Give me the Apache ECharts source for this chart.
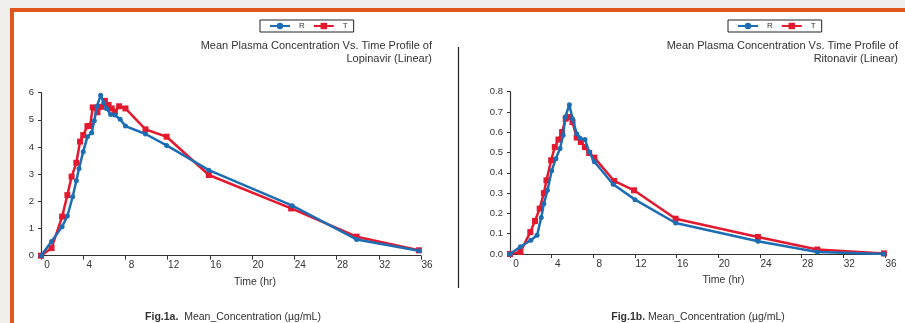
<!DOCTYPE html>
<html>
<head>
<meta charset="utf-8">
<script src="https://cdn.jsdelivr.net/npm/echarts@6/dist/echarts.min.js"></script>
<style>html,body{margin:0;padding:0;background:#f0efeb;}#c{width:905px;height:323px;}</style>
</head>
<body>
<div id="c"></div>
<script>
// ---- data ----
var xTicks = [0, 4, 8, 12, 16, 20, 24, 28, 32, 36];
var legendNames = ['R', 'T'];
var titleLop = 'Mean Plasma Concentration Vs. Time Profile of\nLopinavir (Linear)';
var titleRit = 'Mean Plasma Concentration Vs. Time Profile of\nRitonavir (Linear)';
var xName = 'Time (hr)';

var lopTimeR = [0, 1, 2, 2.5, 3, 3.35, 3.6, 4, 4.4, 4.8, 5.05, 5.3, 5.65, 5.95, 6.2, 6.6, 7, 7.5, 8, 9.9, 11.9, 15.9, 23.8, 29.9, 35.8];
var lopR     = [0, 0.52, 1.07, 1.46, 2.17, 2.76, 3.21, 3.83, 4.38, 4.53, 4.97, 5.5, 5.91, 5.63, 5.42, 5.2, 5.18, 5.02, 4.77, 4.48, 4.06, 3.15, 1.84, 0.6, 0.18];
var lopTimeT = [0, 1, 2, 2.5, 2.9, 3.35, 3.7, 4, 4.4, 4.65, 4.9, 5.35, 5.7, 6.05, 6.4, 6.7, 7, 7.4, 8, 9.9, 11.9, 15.9, 23.7, 29.9, 35.8];
var lopT     = [0, 0.28, 1.44, 2.23, 2.91, 3.42, 4.2, 4.44, 4.77, 4.78, 5.46, 5.28, 5.48, 5.7, 5.55, 5.42, 5.3, 5.5, 5.42, 4.65, 4.38, 2.97, 1.74, 0.7, 0.2];

var ritTimeR = [0, 1, 2, 2.6, 3, 3.25, 3.6, 4, 4.4, 4.8, 5.1, 5.3, 5.7, 6, 6.4, 6.7, 7.2, 7.6, 8.1, 9.9, 12, 15.9, 23.8, 29.5, 35.9];
var ritR     = [0, 0.036, 0.068, 0.092, 0.18, 0.248, 0.314, 0.41, 0.47, 0.52, 0.585, 0.675, 0.736, 0.667, 0.593, 0.572, 0.564, 0.503, 0.455, 0.344, 0.268, 0.153, 0.063, 0.01, 0.0];
var ritTimeT = [0, 1, 1.95, 2.4, 2.85, 3.25, 3.5, 3.95, 4.3, 4.65, 5, 5.35, 5.7, 6, 6.4, 6.8, 7.2, 7.6, 8.1, 10, 11.9, 15.9, 23.8, 29.5, 35.9];
var ritT     = [0, 0.01, 0.108, 0.163, 0.224, 0.30, 0.363, 0.462, 0.527, 0.564, 0.601, 0.667, 0.675, 0.65, 0.574, 0.552, 0.527, 0.498, 0.475, 0.36, 0.314, 0.174, 0.084, 0.022, 0.003];

// ---- chart ----
var FONT = '"Liberation Sans", Arial, sans-serif';
var BLUE = '#1c6db3', RED = '#e2192f', AX = '#333';
function pairs(xs, ys) { return xs.map(function (x, i) { return [x, ys[i]]; }); }

function xAxis(gi, namePad) {
  return {
    type: 'value', gridIndex: gi, min: xTicks[0], max: xTicks[xTicks.length - 1], interval: 4,
    name: xName, nameLocation: 'middle', nameGap: 21,
    nameTextStyle: { fontFamily: FONT, fontSize: 10.5, color: '#333', padding: [0, 0, 0, namePad] },
    axisLine: { show: true, onZero: false, lineStyle: { color: AX, width: 1.2 } },
    axisTick: { show: true, length: 4, lineStyle: { color: AX } },
    axisLabel: { fontFamily: FONT, fontSize: 10, color: '#333', margin: 5, padding: [0, 0, 0, 12] },
    splitLine: { show: false }
  };
}
function yAxis(gi, max, interval, dec) {
  return {
    type: 'value', gridIndex: gi, min: 0, max: max, interval: interval,
    axisLine: { show: true, lineStyle: { color: AX, width: 1.2 } },
    axisTick: { show: true, length: 3, lineStyle: { color: AX } },
    axisLabel: { fontFamily: FONT, fontSize: 9.5, color: '#333', margin: 7,
      formatter: function (v) { return dec ? v.toFixed(dec) : String(v); } },
    splitLine: { show: false }
  };
}
function ser(name, xi, data, color, symbol, size, z) {
  return {
    name: name, type: 'line', xAxisIndex: xi, yAxisIndex: xi, data: data,
    symbol: symbol, symbolSize: size, showSymbol: true, z: z,
    lineStyle: { color: color, width: 2.5 }, itemStyle: { color: color },
    emphasis: { disabled: true }, animation: false
  };
}
function legend(left) {
  return {
    data: legendNames, left: left, top: 20, orient: 'horizontal',
    padding: [2, 6, 2, 9], borderColor: '#222', borderWidth: 1,
    itemWidth: 20, itemHeight: 8, itemGap: 8,
    textStyle: { fontFamily: FONT, fontSize: 8, color: '#333', padding: [0, 0, 0, 4] }
  };
}
function titleText(text, x) {
  return {
    type: 'text', x: x, y: 39, z: 10,
    style: { text: text, align: 'right', verticalAlign: 'top', font: '11px ' + FONT,
      fill: '#333', lineHeight: 13.6 }
  };
}
function caption(x, tag, rest) {
  return {
    type: 'text', x: x, y: 317, z: 10,
    style: {
      text: '{b|' + tag + '}' + rest, align: 'center', verticalAlign: 'middle',
      font: '10.5px ' + FONT, fill: '#333',
      rich: { b: { fontWeight: 'bold', fontFamily: FONT, fontSize: 10.5, fill: '#333' } }
    }
  };
}

var chart = echarts.init(document.getElementById('c'), null, { renderer: 'canvas' });
chart.setOption({
  backgroundColor: '#f0efeb',
  animation: false,
  legend: [legend(260), legend(728)],
  grid: [
    { left: 41, top: 92.7, width: 380, height: 163, containLabel: false },
    { left: 510, top: 91.7, width: 375, height: 162.3, containLabel: false }
  ],
  xAxis: [xAxis(0, 48), xAxis(1, 52)],
  yAxis: [yAxis(0, 6, 1, 0), yAxis(1, 0.8, 0.1, 1)],
  series: [
    ser('R', 0, pairs(lopTimeR, lopR), BLUE, 'circle', 5, 4),
    ser('T', 0, pairs(lopTimeT, lopT), RED, 'rect', 6, 3),
    ser('R', 1, pairs(ritTimeR, ritR), BLUE, 'circle', 5, 4),
    ser('T', 1, pairs(ritTimeT, ritT), RED, 'rect', 6, 3)
  ],
  graphic: [
    { type: 'rect', z: -10, shape: { x: 10, y: 8, width: 900, height: 320 }, style: { fill: '#e0561c' } },
    { type: 'rect', z: -9, shape: { x: 14, y: 12, width: 900, height: 320 }, style: { fill: '#ffffff' } },
    { type: 'line', z: 5, shape: { x1: 458.5, y1: 47, x2: 458.5, y2: 288 }, style: { stroke: '#222', lineWidth: 1.2 } },
    titleText(titleLop, 432),
    titleText(titleRit, 898),
    caption(233, 'Fig.1a.', '  Mean_Concentration (µg/mL)'),
    caption(698, 'Fig.1b.', ' Mean_Concentration (µg/mL)')
  ]
});
</script>
</body>
</html>
